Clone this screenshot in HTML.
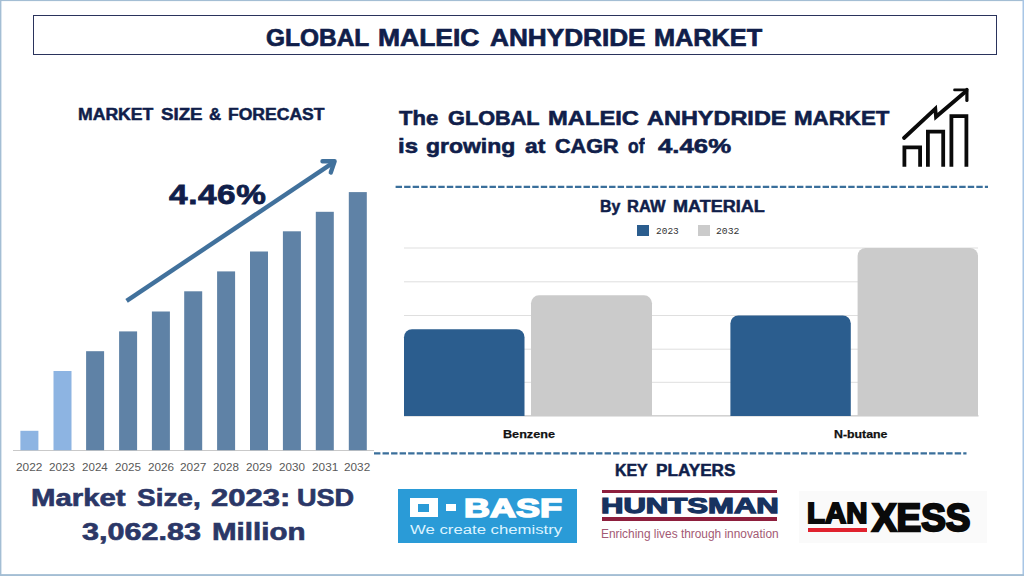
<!DOCTYPE html>
<html><head><meta charset="utf-8"><title>Global Maleic Anhydride Market</title>
<style>
html,body{margin:0;padding:0;background:#fff;}
body{width:1024px;height:576px;position:relative;overflow:hidden;font-family:"Liberation Sans", sans-serif;}
.t{position:absolute;white-space:nowrap;line-height:1;transform-origin:0 0;display:block;}
.b{position:absolute;}
</style></head><body>
<div class="b" style="left:33px;top:15px;width:964px;height:40px;border:1px solid #2a335c;box-sizing:border-box;"></div>
<div class="b" style="left:13px;top:450px;width:361px;height:1px;background:#c9c9c9;"></div>
<svg class="b" style="left:0;top:0" width="1024" height="576" viewBox="0 0 1024 576">
<rect x="20.4" y="430.8" width="18" height="19.4" fill="#8db4e2"/>
<rect x="53.5" y="371" width="18" height="79.2" fill="#8db4e2"/>
<rect x="86.1" y="351.2" width="18" height="99.0" fill="#5f82a6"/>
<rect x="119.1" y="331.4" width="18" height="118.8" fill="#5f82a6"/>
<rect x="151.9" y="311.5" width="18" height="138.7" fill="#5f82a6"/>
<rect x="184.2" y="291.3" width="18" height="158.9" fill="#5f82a6"/>
<rect x="217.1" y="271.4" width="18" height="178.8" fill="#5f82a6"/>
<rect x="250" y="251.5" width="18" height="198.7" fill="#5f82a6"/>
<rect x="282.9" y="231.3" width="18" height="218.9" fill="#5f82a6"/>
<rect x="315.8" y="211.8" width="18" height="238.4" fill="#5f82a6"/>
<rect x="348.8" y="192.1" width="18" height="258.1" fill="#5f82a6"/>
</svg>
<svg class="b" style="left:0;top:0" width="1024" height="576" viewBox="0 0 1024 576">
<g fill="none" stroke="#41719c" stroke-width="4.4" stroke-linejoin="round"><path d="M126.6 300.9 L333.6 162.3" stroke-linecap="butt"/><path d="M322.5 161.2 L334.6 161.2 L330.8 172.5" stroke-linecap="round"/></g>
<g fill="none" stroke="#3a6f9b" stroke-width="2.1" stroke-dasharray="6.4 2.14"><path d="M395.6 186.9 H988"/><path d="M374 453.4 H966.5"/></g>
<g fill="none" stroke="#0a0a0a" stroke-width="3.8" stroke-linejoin="miter"><path d="M904.4 166.8 V147.3 H920.1 V166.8"/><path d="M927.9 166.8 V131.6 H943.2 V166.8"/><path d="M951.4 166.8 V116.2 H966.4 V166.8"/><path d="M904 138 L935.3 108.8 L936 116.8 L966.3 91" stroke-linecap="round"/><path d="M954.5 89.9 H967" stroke-width="2.6" stroke-linecap="round"/><path d="M966.9 89.3 V100.5" stroke-width="3.2" stroke-linecap="round"/></g>
<g fill="#a4bed4"><rect x="0" y="0" width="1024" height="1.1"/><rect x="0" y="0" width="1.4" height="576"/><rect x="1022.5" y="0" width="1.5" height="576" fill="#a8c6e6"/><rect x="0" y="574.1" width="1024" height="1.9"/></g>
</svg>
<svg class="b" style="left:0;top:0" width="1024" height="576" viewBox="0 0 1024 576">
<rect x="404" y="247.5" width="574" height="1" fill="#dfdfdf"/>
<rect x="404" y="281.3" width="574" height="1" fill="#dfdfdf"/>
<rect x="404" y="315.0" width="574" height="1" fill="#dfdfdf"/>
<rect x="404" y="348.7" width="574" height="1" fill="#dfdfdf"/>
<rect x="404" y="381.8" width="574" height="1" fill="#dfdfdf"/>
<rect x="404" y="415" width="574.5" height="1.6" fill="#d2d2d2"/>
<path d="M404 416 V337.2 A8 8 0 0 1 412 329.2 H516.5 A8 8 0 0 1 524.5 337.2 V416 Z" fill="#2b5d8e"/>
<path d="M531 416 V303.3 A8 8 0 0 1 539 295.3 H644 A8 8 0 0 1 652 303.3 V416 Z" fill="#cbcbcb"/>
<path d="M730.4 416 V323.5 A8 8 0 0 1 738.4 315.5 H842.8 A8 8 0 0 1 850.8 323.5 V416 Z" fill="#2b5d8e"/>
<path d="M857.6 416 V256.0 A8 8 0 0 1 865.6 248.0 H970 A8 8 0 0 1 978 256.0 V416 Z" fill="#cbcbcb"/>
</svg>
<div class="b" style="left:637.3px;top:225px;width:12px;height:11px;background:#2b5d8e;"></div>
<div class="b" style="left:698px;top:225px;width:12px;height:11px;background:#cbcbcb;"></div>
<div class="b" style="left:398px;top:489.2px;width:179.3px;height:53.4px;background:#2a9bd7;"></div>
<div class="b" style="left:410.3px;top:497.9px;width:27.7px;height:19.5px;background:#fff;"></div>
<div class="b" style="left:418.1px;top:503.5px;width:11.2px;height:8px;background:#2a9bd7;"></div>
<div class="b" style="left:445.6px;top:503.9px;width:10.9px;height:7.6px;background:#fff;"></div>
<div class="b" style="left:601.8px;top:489.9px;width:175.5px;height:3.6px;background:#8e1f3d;"></div>
<div class="b" style="left:601.8px;top:517px;width:175.5px;height:3.5px;background:#8e1f3d;"></div>
<div class="b" style="left:799px;top:490.8px;width:187.5px;height:51.8px;background:#fafafa;"></div>
<div class="b" style="left:808px;top:528px;width:58.7px;height:3.9px;background:#e0222e;"></div>
<div class="t" id="t_title_0" style="left:265.75px;top:26.06px;font-size:24.3px;font-weight:700;color:#101e4a;transform:scaleX(1.0071);-webkit-text-stroke:0.7px #101e4a;">GLOBAL</div>
<div class="t" id="t_title_1" style="left:377.81px;top:26.06px;font-size:24.3px;font-weight:700;color:#101e4a;transform:scaleX(1.0896);-webkit-text-stroke:0.7px #101e4a;">MALEIC</div>
<div class="t" id="t_title_2" style="left:490.20px;top:26.06px;font-size:24.3px;font-weight:700;color:#101e4a;transform:scaleX(1.0769);-webkit-text-stroke:0.7px #101e4a;">ANHYDRIDE</div>
<div class="t" id="t_title_3" style="left:653.85px;top:26.06px;font-size:24.3px;font-weight:700;color:#101e4a;transform:scaleX(1.0411);-webkit-text-stroke:0.7px #101e4a;">MARKET</div>
<div class="t" id="t_msf_0" style="left:77.85px;top:107.20px;font-size:16.0px;font-weight:700;color:#101e4a;transform:scaleX(1.1008);-webkit-text-stroke:0.5px #101e4a;">MARKET</div>
<div class="t" id="t_msf_1" style="left:161.10px;top:107.20px;font-size:16.0px;font-weight:700;color:#101e4a;transform:scaleX(1.1679);-webkit-text-stroke:0.5px #101e4a;">SIZE</div>
<div class="t" id="t_msf_2" style="left:209.40px;top:107.20px;font-size:16.0px;font-weight:700;color:#101e4a;transform:scaleX(1.0506);-webkit-text-stroke:0.5px #101e4a;">&amp;</div>
<div class="t" id="t_msf_3" style="left:227.87px;top:107.20px;font-size:16.0px;font-weight:700;color:#101e4a;transform:scaleX(1.0961);-webkit-text-stroke:0.5px #101e4a;">FORECAST</div>
<div class="t" id="t_h1_0" style="left:399.00px;top:108.10px;font-size:20.5px;font-weight:700;color:#101e4a;transform:scaleX(1.0735);-webkit-text-stroke:0.6px #101e4a;">The</div>
<div class="t" id="t_h1_1" style="left:448.01px;top:108.10px;font-size:20.5px;font-weight:700;color:#101e4a;transform:scaleX(1.0583);-webkit-text-stroke:0.6px #101e4a;">GLOBAL</div>
<div class="t" id="t_h1_2" style="left:547.65px;top:108.10px;font-size:20.5px;font-weight:700;color:#101e4a;transform:scaleX(1.1584);-webkit-text-stroke:0.6px #101e4a;">MALEIC</div>
<div class="t" id="t_h1_3" style="left:646.58px;top:108.10px;font-size:20.5px;font-weight:700;color:#101e4a;transform:scaleX(1.1445);-webkit-text-stroke:0.6px #101e4a;">ANHYDRIDE</div>
<div class="t" id="t_h1_4" style="left:794.06px;top:108.10px;font-size:20.5px;font-weight:700;color:#101e4a;transform:scaleX(1.0881);-webkit-text-stroke:0.6px #101e4a;">MARKET</div>
<div class="t" id="t_h2_0" style="left:398.06px;top:136.10px;font-size:20.5px;font-weight:700;color:#101e4a;transform:scaleX(1.1666);-webkit-text-stroke:0.6px #101e4a;">is</div>
<div class="t" id="t_h2_1" style="left:426.49px;top:136.10px;font-size:20.5px;font-weight:700;color:#101e4a;transform:scaleX(1.1205);-webkit-text-stroke:0.6px #101e4a;">growing</div>
<div class="t" id="t_h2_2" style="left:524.63px;top:136.10px;font-size:20.5px;font-weight:700;color:#101e4a;transform:scaleX(1.1109);-webkit-text-stroke:0.6px #101e4a;">at</div>
<div class="t" id="t_h2_3" style="left:555.34px;top:136.10px;font-size:20.5px;font-weight:700;color:#101e4a;transform:scaleX(1.0523);-webkit-text-stroke:0.6px #101e4a;">CAGR</div>
<div class="t" id="t_h2_4" style="left:628.30px;top:136.10px;font-size:20.5px;font-weight:700;color:#101e4a;transform:scaleX(0.8487);-webkit-text-stroke:0.6px #101e4a;">of</div>
<div class="t" id="t_h2_5" style="left:657.90px;top:136.10px;font-size:20.5px;font-weight:700;color:#101e4a;transform:scaleX(1.2573);-webkit-text-stroke:0.6px #101e4a;">4.46%</div>
<div class="t" id="t_raw_0" style="left:599.86px;top:199.10px;font-size:16.0px;font-weight:700;color:#101e4a;transform:scaleX(0.9935);-webkit-text-stroke:0.5px #101e4a;">By</div>
<div class="t" id="t_raw_1" style="left:627.20px;top:199.10px;font-size:16.0px;font-weight:700;color:#101e4a;transform:scaleX(1.0293);-webkit-text-stroke:0.5px #101e4a;">RAW</div>
<div class="t" id="t_raw_2" style="left:672.83px;top:199.10px;font-size:16.0px;font-weight:700;color:#101e4a;transform:scaleX(1.1255);-webkit-text-stroke:0.5px #101e4a;">MATERIAL</div>
<div class="t" id="t_ms1_0" style="left:31.44px;top:486.39px;font-size:24.2px;font-weight:700;color:#2b3767;transform:scaleX(1.2129);-webkit-text-stroke:0.65px #2b3767;">Market</div>
<div class="t" id="t_ms1_1" style="left:137.32px;top:486.39px;font-size:24.2px;font-weight:700;color:#2b3767;transform:scaleX(1.1546);-webkit-text-stroke:0.65px #2b3767;">Size,</div>
<div class="t" id="t_ms1_2" style="left:211.36px;top:486.39px;font-size:24.2px;font-weight:700;color:#2b3767;transform:scaleX(1.2805);-webkit-text-stroke:0.65px #2b3767;">2023:</div>
<div class="t" id="t_ms1_3" style="left:296.91px;top:486.39px;font-size:24.2px;font-weight:700;color:#2b3767;transform:scaleX(1.1196);-webkit-text-stroke:0.65px #2b3767;">USD</div>
<div class="t" id="t_ms2_0" style="left:82.21px;top:519.84px;font-size:24.2px;font-weight:700;color:#2b3767;transform:scaleX(1.2625);-webkit-text-stroke:0.65px #2b3767;">3,062.83</div>
<div class="t" id="t_ms2_1" style="left:212.02px;top:519.84px;font-size:24.2px;font-weight:700;color:#2b3767;transform:scaleX(1.2207);-webkit-text-stroke:0.65px #2b3767;">Million</div>
<div class="t" id="t_key_0" style="left:615.46px;top:463.35px;font-size:16.0px;font-weight:700;color:#101e4a;transform:scaleX(0.9939);-webkit-text-stroke:0.5px #101e4a;">KEY</div>
<div class="t" id="t_key_1" style="left:655.80px;top:463.35px;font-size:16.0px;font-weight:700;color:#101e4a;transform:scaleX(1.0714);-webkit-text-stroke:0.5px #101e4a;">PLAYERS</div>
<div class="t" id="t_pct" style="left:168.60px;top:181.47px;font-size:28px;font-weight:700;color:#101e4a;transform:scaleX(1.1901);letter-spacing:0.5px;-webkit-text-stroke:0.8px #101e4a;">4.46%</div>
<div class="t" id="t_l1" style="left:655.89px;top:226.56px;font-size:9.3px;font-weight:400;color:#333;transform:scaleX(1.0199);font-family:'Liberation Mono',monospace;">2023</div>
<div class="t" id="t_l2" style="left:716.27px;top:226.56px;font-size:9.3px;font-weight:400;color:#333;transform:scaleX(1.0492);font-family:'Liberation Mono',monospace;">2032</div>
<div class="t" id="t_basf" style="left:463.85px;top:496.04px;font-size:25.2px;font-weight:700;color:#ffffff;transform:scaleX(1.4270);-webkit-text-stroke:1.5px #fff;">BASF</div>
<div class="t" id="t_basf2" style="left:410.22px;top:523.74px;font-size:12px;font-weight:400;color:#dcf3ff;transform:scaleX(1.3946);">We create chemistry</div>
<div class="t" id="t_hunt" style="left:601.03px;top:495.27px;font-size:21.7px;font-weight:700;color:#17325f;transform:scaleX(1.4325);-webkit-text-stroke:1.25px #17325f;">HUNTSMAN</div>
<div class="t" id="t_hunt2" style="left:600.65px;top:528.06px;font-size:12.5px;font-weight:400;color:#a35a74;transform:scaleX(0.9502);">Enriching lives through innovation</div>
<div class="t" id="t_lan" style="left:807.13px;top:498.48px;font-size:29.4px;font-weight:700;color:#0a0a0a;transform:scaleX(0.9991);-webkit-text-stroke:2px #0a0a0a;">LAN</div>
<div class="t" id="t_xess" style="left:872.33px;top:498.94px;font-size:38.7px;font-weight:700;color:#0a0a0a;transform:scaleX(0.9532);-webkit-text-stroke:2.4px #0a0a0a;">XESS</div>
<div class="t" id="t_benz" style="left:503.04px;top:428.96px;font-size:11px;font-weight:700;color:#111;transform:scaleX(1.1480);-webkit-text-stroke:0.25px #111;">Benzene</div>
<div class="t" id="t_nbut" style="left:833.73px;top:428.97px;font-size:11px;font-weight:700;color:#111;transform:scaleX(1.1201);-webkit-text-stroke:0.25px #111;">N-butane</div>
<div class="t" id="t_y0" style="left:16.26px;top:462.16px;font-size:11.8px;font-weight:400;color:#595959;transform:scaleX(1.0063);">2022</div>
<div class="t" id="t_y1" style="left:48.89px;top:462.16px;font-size:11.8px;font-weight:400;color:#595959;transform:scaleX(0.9893);">2023</div>
<div class="t" id="t_y2" style="left:81.50px;top:462.17px;font-size:11.8px;font-weight:400;color:#595959;transform:scaleX(0.9817);">2024</div>
<div class="t" id="t_y3" style="left:115.06px;top:462.16px;font-size:11.8px;font-weight:400;color:#595959;transform:scaleX(0.9880);">2025</div>
<div class="t" id="t_y4" style="left:147.67px;top:462.14px;font-size:11.8px;font-weight:400;color:#595959;transform:scaleX(0.9925);">2026</div>
<div class="t" id="t_y5" style="left:180.26px;top:462.16px;font-size:11.8px;font-weight:400;color:#595959;transform:scaleX(1.0060);">2027</div>
<div class="t" id="t_y6" style="left:212.89px;top:462.16px;font-size:11.8px;font-weight:400;color:#595959;transform:scaleX(0.9887);">2028</div>
<div class="t" id="t_y7" style="left:246.40px;top:462.16px;font-size:11.8px;font-weight:400;color:#595959;transform:scaleX(0.9917);">2029</div>
<div class="t" id="t_y8" style="left:278.78px;top:462.17px;font-size:11.8px;font-weight:400;color:#595959;transform:scaleX(0.9864);">2030</div>
<div class="t" id="t_y9" style="left:311.66px;top:462.12px;font-size:11.8px;font-weight:400;color:#595959;transform:scaleX(1.0020);">2031</div>
<div class="t" id="t_y10" style="left:344.27px;top:462.14px;font-size:11.8px;font-weight:400;color:#595959;transform:scaleX(0.9982);">2032</div>
</body></html>
